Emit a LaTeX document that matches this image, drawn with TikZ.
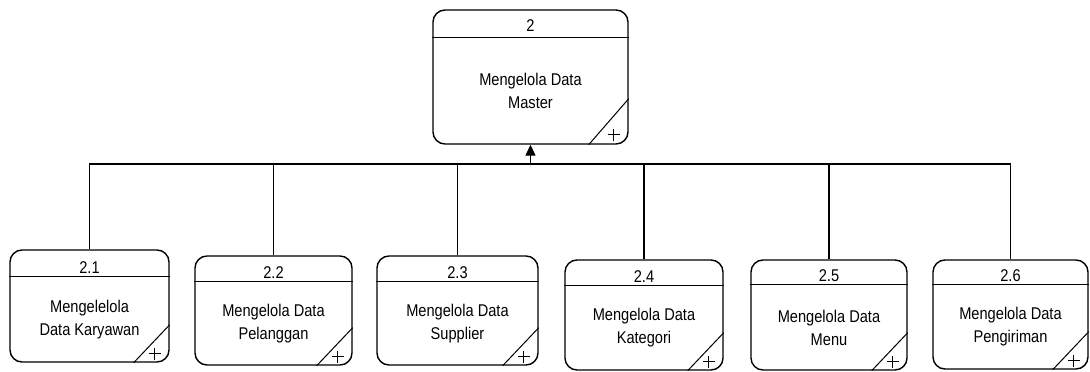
\documentclass[tikz,border=0pt]{standalone}
\usepackage{fontspec}
\setmainfont[FakeStretch=0.86]{Liberation Sans}
\usetikzlibrary{arrows.meta}

\tikzset{
  proc/.style={draw, rounded corners=12pt, line width=1.4pt, inner sep=0pt},
  hdr/.style={line width=1.4pt},
  num/.style={anchor=base, font=\fontsize{17}{20}\selectfont},
  lbl/.style={align=center, font=\fontsize{17}{23}\selectfont},
  flow/.style={line width=1.4pt},
  cornerln/.style={line width=1pt},
  plusln/.style={line width=0.7pt}
}

\begin{document}
\begin{tikzpicture}[x=1pt, y=-1pt]
  \useasboundingbox (0,0) rectangle (1090,372);

  % Parent process
  \node[proc, minimum width=195pt, minimum height=134pt] (p2) at (530.5,77) {};
  \draw[hdr] ([yshift=-28pt]p2.north west) -- ([yshift=-28pt]p2.north east);
  \node[num] (n2) at ([yshift=-22pt]p2.north) {2};
  \node[lbl] (t2) at ([yshift=-14pt]p2.center) {Mengelola Data\\Master};
  \draw[cornerln] ([xshift=-40pt]p2.south east) -- ([yshift=46pt]p2.south east);
  \draw[plusln] ([xshift=-21pt,yshift=10pt]p2.south east) -- ([xshift=-9pt,yshift=10pt]p2.south east);
  \draw[plusln] ([xshift=-15pt,yshift=4pt]p2.south east) -- ([xshift=-15pt,yshift=16pt]p2.south east);

  % 2.1
  \node[proc, minimum width=159pt, minimum height=112pt] (p21) at (89.5,306) {};
  \draw[hdr] ([yshift=-27pt]p21.north west) -- ([yshift=-27pt]p21.north east);
  \node[num] (n21) at ([yshift=-24pt]p21.north) {2.1};
  \node[lbl] (t21) at ([yshift=-13.5pt]p21.center) {Mengelelola\\Data Karyawan};
  \draw[cornerln] ([xshift=-36pt]p21.south east) -- ([yshift=38pt]p21.south east);
  \draw[plusln] ([xshift=-21pt,yshift=9pt]p21.south east) -- ([xshift=-9pt,yshift=9pt]p21.south east);
  \draw[plusln] ([xshift=-15pt,yshift=3pt]p21.south east) -- ([xshift=-15pt,yshift=15pt]p21.south east);

  % 2.2
  \node[proc, minimum width=157pt, minimum height=109pt] (p22) at (273.5,310.5) {};
  \draw[hdr] ([yshift=-26pt]p22.north west) -- ([yshift=-26pt]p22.north east);
  \node[num] (n22) at ([yshift=-23pt]p22.north) {2.2};
  \node[lbl] (t22) at ([yshift=-13pt]p22.center) {Mengelola Data\\Pelanggan};
  \draw[cornerln] ([xshift=-36pt]p22.south east) -- ([yshift=38pt]p22.south east);
  \draw[plusln] ([xshift=-21pt,yshift=9pt]p22.south east) -- ([xshift=-9pt,yshift=9pt]p22.south east);
  \draw[plusln] ([xshift=-15pt,yshift=3pt]p22.south east) -- ([xshift=-15pt,yshift=15pt]p22.south east);

  % 2.3
  \node[proc, minimum width=161pt, minimum height=109pt] (p23) at (457.5,310.5) {};
  \draw[hdr] ([yshift=-26pt]p23.north west) -- ([yshift=-26pt]p23.north east);
  \node[num] (n23) at ([yshift=-23pt]p23.north) {2.3};
  \node[lbl] (t23) at ([yshift=-13pt]p23.center) {Mengelola Data\\Supplier};
  \draw[cornerln] ([xshift=-36pt]p23.south east) -- ([yshift=38pt]p23.south east);
  \draw[plusln] ([xshift=-21pt,yshift=9pt]p23.south east) -- ([xshift=-9pt,yshift=9pt]p23.south east);
  \draw[plusln] ([xshift=-15pt,yshift=3pt]p23.south east) -- ([xshift=-15pt,yshift=15pt]p23.south east);

  % 2.4
  \node[proc, minimum width=158pt, minimum height=110pt] (p24) at (644,315) {};
  \draw[hdr] ([yshift=-26pt]p24.north west) -- ([yshift=-26pt]p24.north east);
  \node[num] (n24) at ([yshift=-23pt]p24.north) {2.4};
  \node[lbl] (t24) at ([yshift=-13pt]p24.center) {Mengelola Data\\Kategori};
  \draw[cornerln] ([xshift=-36pt]p24.south east) -- ([yshift=38pt]p24.south east);
  \draw[plusln] ([xshift=-21pt,yshift=9pt]p24.south east) -- ([xshift=-9pt,yshift=9pt]p24.south east);
  \draw[plusln] ([xshift=-15pt,yshift=3pt]p24.south east) -- ([xshift=-15pt,yshift=15pt]p24.south east);

  % 2.5
  \node[proc, minimum width=156pt, minimum height=110pt] (p25) at (829,315) {};
  \draw[hdr] ([yshift=-25pt]p25.north west) -- ([yshift=-25pt]p25.north east);
  \node[num] (n25) at ([yshift=-22pt]p25.north) {2.5};
  \node[lbl] (t25) at ([yshift=-12.5pt]p25.center) {Mengelola Data\\Menu};
  \draw[cornerln] ([xshift=-36pt]p25.south east) -- ([yshift=38pt]p25.south east);
  \draw[plusln] ([xshift=-21pt,yshift=9pt]p25.south east) -- ([xshift=-9pt,yshift=9pt]p25.south east);
  \draw[plusln] ([xshift=-15pt,yshift=3pt]p25.south east) -- ([xshift=-15pt,yshift=15pt]p25.south east);

  % 2.6
  \node[proc, minimum width=155pt, minimum height=109pt] (p26) at (1010.5,314.5) {};
  \draw[hdr] ([yshift=-25pt]p26.north west) -- ([yshift=-25pt]p26.north east);
  \node[num] (n26) at ([yshift=-22pt]p26.north) {2.6};
  \node[lbl] (t26) at ([yshift=-12.5pt]p26.center) {Mengelola Data\\Pengiriman};
  \draw[cornerln] ([xshift=-36pt]p26.south east) -- ([yshift=38pt]p26.south east);
  \draw[plusln] ([xshift=-21pt,yshift=9pt]p26.south east) -- ([xshift=-9pt,yshift=9pt]p26.south east);
  \draw[plusln] ([xshift=-15pt,yshift=3pt]p26.south east) -- ([xshift=-15pt,yshift=15pt]p26.south east);

  % Bus to the parent
  \coordinate (bus) at (530.5,164);
  \draw[flow] (p21.north) |- (bus);
  \draw[flow] (p22.north) |- (bus);
  \draw[flow] (p23.north) |- (bus);
  \draw[flow] (p24.north) |- (bus);
  \draw[flow] (p25.north) |- (bus);
  \draw[flow] (p26.north) |- (bus);
  \draw[flow, -{Triangle[length=11pt, width=10pt]}] (bus) -- (p2.south);
\end{tikzpicture}
\end{document}
